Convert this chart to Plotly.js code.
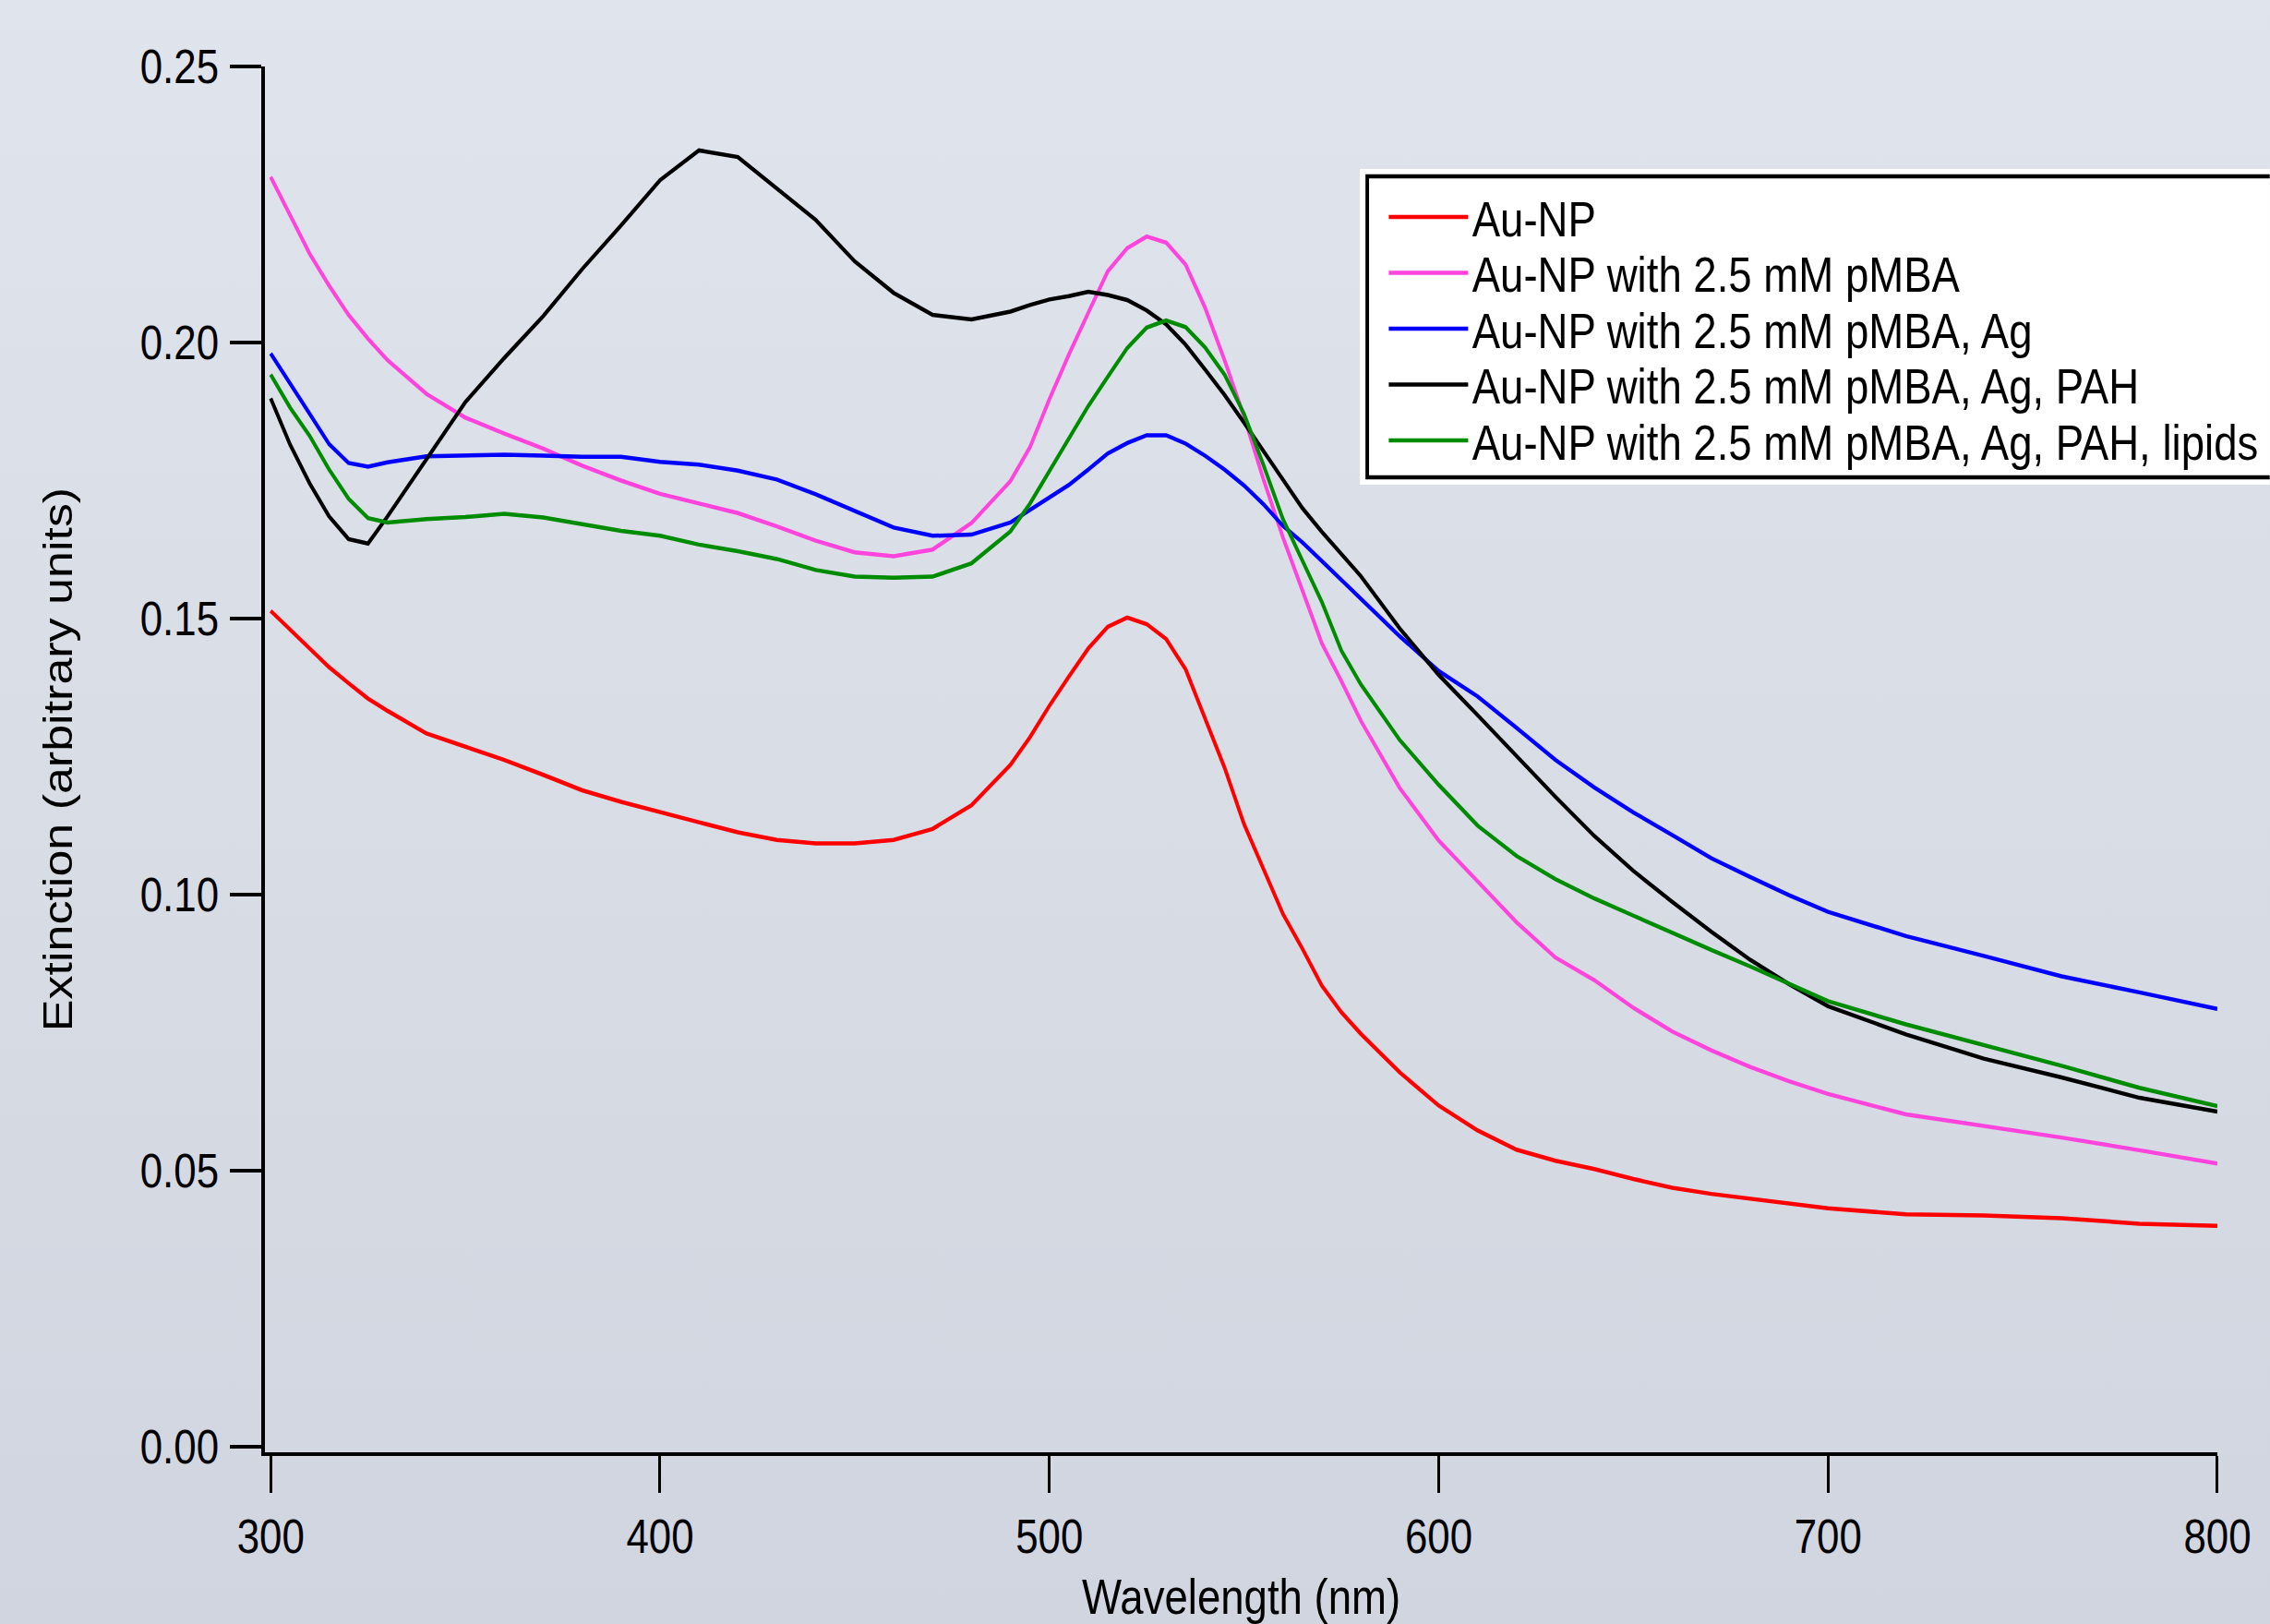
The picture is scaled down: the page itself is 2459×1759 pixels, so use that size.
<!DOCTYPE html>
<html>
<head>
<meta charset="utf-8">
<script src="https://cdn.plot.ly/plotly-3.0.1.min.js"></script>
<style>
  html, body { margin: 0; padding: 0; overflow: hidden; }
  body { width: 2459px; height: 1759px; background: linear-gradient(to bottom, #e0e4ec 0%, #d0d5df 100%); }
  #wrap { width: 2459px; height: 1759px; overflow: hidden; position: relative; }
  #chart { position: absolute; left: 0; top: 0; transform-origin: 0 0; }
</style>
</head>
<body>
<div id="wrap"><div id="chart"></div></div>
<script>
// Wavelength (nm)
const wavelength = [300,305,310,315,320,325,330,340,350,360,370,380,390,400,410,420,430,440,450,460,470,480,490,495,500,505,510,515,520,525,530,535,540,545,550,555,560,565,570,575,580,590,600,610,620,630,640,650,660,670,680,690,700,720,740,760,780,800];

const seriesNames = [
  "Au-NP",
  "Au-NP with 2.5 mM pMBA",
  "Au-NP with 2.5 mM pMBA, Ag",
  "Au-NP with 2.5 mM pMBA, Ag, PAH",
  "Au-NP with 2.5 mM pMBA, Ag, PAH, lipids"
];

const auNP = [0.1514,0.1480,0.1444,0.1412,0.1383,0.1355,0.1333,0.1292,0.1268,0.1244,0.1217,0.1189,0.1168,0.1149,0.1131,0.1113,0.1099,0.1093,0.1093,0.1099,0.1119,0.1162,0.1235,0.1285,0.1342,0.1395,0.1446,0.1485,0.1502,0.1490,0.1463,0.1408,0.1318,0.1230,0.1128,0.1045,0.0965,0.0902,0.0835,0.0787,0.0748,0.0678,0.0618,0.0573,0.0538,0.0518,0.0503,0.0485,0.0469,0.0458,0.0449,0.0440,0.0432,0.0421,0.0419,0.0414,0.0404,0.0400];

const auNP_pMBA = [0.2300,0.2230,0.2161,0.2103,0.2050,0.2007,0.1968,0.1907,0.1864,0.1835,0.1808,0.1777,0.1750,0.1726,0.1709,0.1691,0.1667,0.1641,0.1620,0.1613,0.1625,0.1673,0.1749,0.1810,0.1897,0.1978,0.2054,0.2129,0.2171,0.2192,0.2181,0.2141,0.2063,0.1968,0.1866,0.1752,0.1647,0.1550,0.1455,0.1387,0.1315,0.1193,0.1098,0.1024,0.0950,0.0886,0.0845,0.0795,0.0752,0.0718,0.0688,0.0662,0.0639,0.0602,0.0581,0.0560,0.0537,0.0513];

const auNP_pMBA_Ag = [0.1980,0.1927,0.1871,0.1816,0.1782,0.1775,0.1783,0.1794,0.1795,0.1797,0.1795,0.1793,0.1793,0.1784,0.1779,0.1768,0.1752,0.1725,0.1695,0.1665,0.1650,0.1652,0.1674,0.1696,0.1719,0.1742,0.1770,0.1799,0.1818,0.1832,0.1832,0.1817,0.1795,0.1770,0.1741,0.1707,0.1668,0.1638,0.1604,0.1570,0.1535,0.1468,0.1405,0.1359,0.1302,0.1244,0.1194,0.1149,0.1108,0.1066,0.1032,0.0999,0.0969,0.0925,0.0889,0.0852,0.0823,0.0793];

const auNP_pMBA_Ag_PAH = [0.1899,0.1815,0.1745,0.1685,0.1644,0.1636,0.1685,0.1790,0.1892,0.1972,0.2048,0.2133,0.2212,0.2294,0.2348,0.2336,0.2279,0.2222,0.2147,0.2090,0.2050,0.2042,0.2056,0.2068,0.2078,0.2084,0.2092,0.2086,0.2077,0.2058,0.2033,0.1996,0.1951,0.1905,0.1855,0.1803,0.1751,0.1700,0.1657,0.1617,0.1577,0.1482,0.1398,0.1325,0.1251,0.1177,0.1106,0.1043,0.0987,0.0933,0.0882,0.0838,0.0798,0.0747,0.0703,0.0669,0.0632,0.0607];

const auNP_pMBA_Ag_PAH_lipids = [0.1942,0.1882,0.1831,0.1770,0.1717,0.1682,0.1674,0.1680,0.1684,0.1690,0.1683,0.1671,0.1659,0.1650,0.1634,0.1622,0.1608,0.1588,0.1576,0.1574,0.1576,0.1600,0.1658,0.1708,0.1768,0.1828,0.1885,0.1938,0.1990,0.2027,0.2040,0.2028,0.1991,0.1942,0.1871,0.1778,0.1680,0.1605,0.1530,0.1442,0.1381,0.1280,0.1199,0.1125,0.1070,0.1028,0.0993,0.0962,0.0930,0.0900,0.0870,0.0838,0.0807,0.0765,0.0727,0.0690,0.0650,0.0617];

const xTicks = [300,400,500,600,700,800];
const yTicks = [0.00,0.05,0.10,0.15,0.20,0.25];
const yTickText = ["0.00","0.05","0.10","0.15","0.20","0.25"];

const seriesValues = [auNP, auNP_pMBA, auNP_pMBA_Ag, auNP_pMBA_Ag_PAH, auNP_pMBA_Ag_PAH_lipids];
const seriesColors = ["#ff0000", "#ff44dd", "#0000ff", "#000000", "#008c00"];

// The reference figure is horizontally condensed; draw wider and squeeze with CSS.
const SQX = 0.86;
const W = 2459, H = 1759;
const Wp = W / SQX;
const plotLeft = 287, plotRight = 2402, plotTop = 72, plotBottom = 1573; // reference pixels
const px2paperX = p => (p - plotLeft) / (plotRight - plotLeft);
const px2paperY = p => (plotBottom - p) / (plotBottom - plotTop);

const font = "Liberation Sans, Arial, Helvetica, sans-serif";

// one legend entry per row, so the rows can sit at the reference spacing
const legendIds = ["legend", "legend2", "legend3", "legend4", "legend5"];
const legendRowY = [235, 295.5, 356, 416.5, 477];

const traces = seriesValues.map((vals, i) => ({
  type: "scatter",
  mode: "lines",
  name: seriesNames[i],
  x: wavelength,
  y: vals,
  legend: legendIds[i],
  line: { color: seriesColors[i], width: 4.5 }
}));

const layout = {
  width: Wp,
  height: H,
  paper_bgcolor: "rgba(0,0,0,0)",
  plot_bgcolor: "rgba(0,0,0,0)",
  margin: { l: plotLeft / SQX, r: (W - plotRight) / SQX, t: plotTop, b: H - plotBottom, autoexpand: false },
  showlegend: true,
  shapes: [
    { type: "rect", xref: "paper", yref: "paper", layer: "below",
      x0: px2paperX(1473), x1: px2paperX(2520), y0: px2paperY(525), y1: px2paperY(183),
      fillcolor: "#ffffff", line: { width: 0 } },
    { type: "rect", xref: "paper", yref: "paper", layer: "below",
      x0: px2paperX(1481), x1: px2paperX(2500), y0: px2paperY(517), y1: px2paperY(191),
      fillcolor: "#ffffff", line: { color: "#000000", width: 4.5 } }
  ],
  xaxis: {
    range: [298.58, 800],
    showgrid: false, zeroline: false,
    showline: true, linecolor: "#000000", linewidth: 4,
    ticks: "outside", ticklen: 40, tickwidth: 3 / SQX, tickcolor: "#000000",
    tickvals: xTicks, ticktext: xTicks.map(String),
    ticklabelstandoff: 4,
    tickfont: { family: font, size: 51, color: "#000000" },
    automargin: false,
    title: { text: "Wavelength (nm)", font: { family: font, size: 53, color: "#000000" }, standoff: 53 }
  },
  yaxis: {
    range: [-0.001, 0.25],
    showgrid: false, zeroline: false,
    showline: true, linecolor: "#000000", linewidth: 4 / SQX,
    ticks: "outside", ticklen: 34 / SQX, tickwidth: 4, tickcolor: "#000000",
    tickvals: yTicks, ticktext: yTickText,
    ticklabelstandoff: 4,
    tickfont: { family: font, size: 51, color: "#000000" },
    automargin: false,
    title: { text: "Extinction (arbitrary units)", font: { family: font, size: 52, color: "#000000" }, standoff: 70 }
  }
};

legendIds.forEach((id, i) => {
  layout[id] = {
    x: px2paperX(1500), y: px2paperY(legendRowY[i]),
    xanchor: "left", yanchor: "middle",
    bgcolor: "rgba(0,0,0,0)", borderwidth: 0,
    font: { family: font, size: 53, color: "#000000" },
    itemwidth: 100
  };
});

const chartDiv = document.getElementById("chart");
chartDiv.style.width = Wp + "px";
chartDiv.style.height = H + "px";
chartDiv.style.transform = "scaleX(" + SQX + ")";

Plotly.newPlot(chartDiv, traces, layout, { displayModeBar: false, staticPlot: true });
</script>
</body>
</html>
